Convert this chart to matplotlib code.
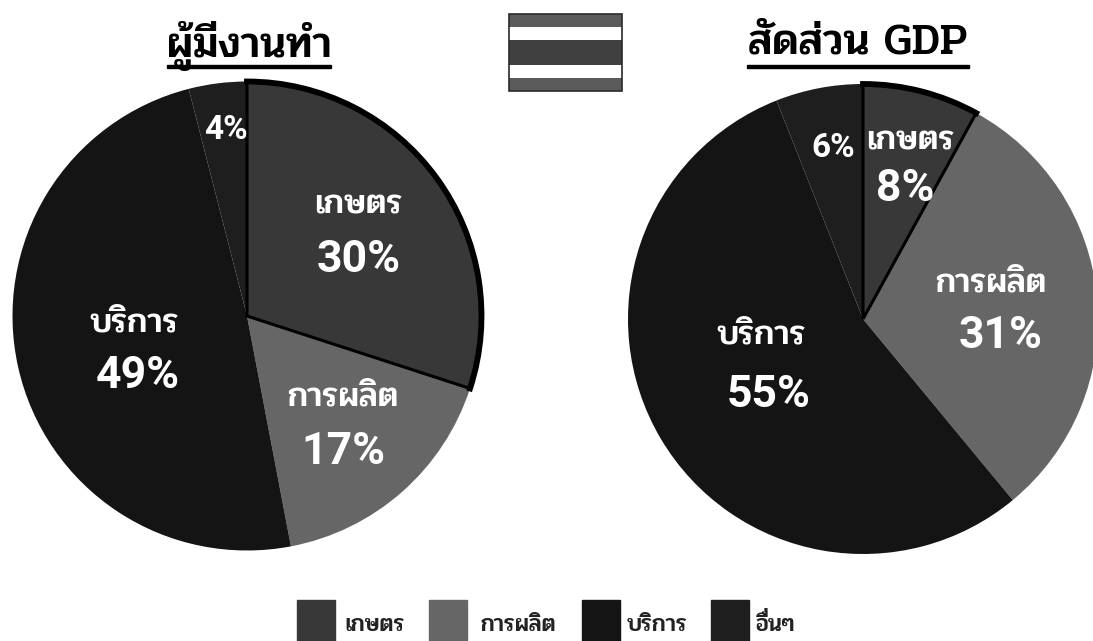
import matplotlib
matplotlib.use('Agg')
import matplotlib.pyplot as plt
from matplotlib.patches import Rectangle, Arc

W, H = 1093, 641

categories = ['เกษตร', 'การผลิต', 'บริการ', 'อื่นๆ']
colors = ['#383838', '#666666', '#141414', '#1e1e1e']
jobs = [30, 17, 49, 4]
gdp = [8, 31, 55, 6]
title_left = 'ผู้มีงานทำ'
title_right = 'สัดส่วน GDP'

THAI_FONT = ['Pridi', 'DejaVu Serif']
NUM_FONT = ['Roboto', 'DejaVu Sans']


def px_axes(x0, y0, x1, y1):
    # pixel box, y counted from the top like in the picture
    return fig.add_axes([x0 / W, 1 - y1 / H, (x1 - x0) / W, (y1 - y0) / H])


def draw_pie(cx, cy, r, values):
    ax = px_axes(cx - r, cy - r, cx + r, cy + r)
    wedges, _ = ax.pie(values, colors=colors, startangle=90, counterclock=False, radius=1)
    ax.set_xlim(-1, 1)
    ax.set_ylim(-1, 1)
    ax.patch.set_visible(False)
    # first slice gets the black outline, the round side is drawn thicker
    first = wedges[0]
    first.set_edgecolor('black')
    first.set_linewidth(2.2)
    first.set_zorder(5)
    first.set_clip_on(False)
    arc = Arc((0, 0), 2, 2, theta1=first.theta1, theta2=first.theta2, color='black', lw=4.2,
              zorder=6, capstyle='projecting', clip_on=False)
    ax.add_patch(arc)
    return ax


def name_label(x, y, text):
    fig.text(x / W, 1 - y / H, text, color='white', fontsize=25, family=THAI_FONT,
             weight=500, ha='center', va='center', zorder=10)


def pct_label(x, y, value, size=32, weight=600):
    fig.text(x / W, 1 - y / H, f'{value}%', color='white', fontsize=size, family=NUM_FONT,
             weight=weight, ha='center', va='center', zorder=10)


fig = plt.figure(figsize=(W / 100, H / 100), dpi=100)

draw_pie(247, 316, 234.5, jobs)
draw_pie(863, 319, 235, gdp)

name_label(359, 205, categories[0])
pct_label(359, 260, jobs[0])
name_label(343, 398, categories[1])
pct_label(343, 452, jobs[1])
name_label(134, 324, categories[2])
pct_label(138, 376, jobs[2])
pct_label(226, 130, jobs[3], 24, 700)

name_label(911, 142, categories[0])
pct_label(905, 189, gdp[0])
name_label(991, 283, categories[1])
pct_label(1001, 336, gdp[1])
name_label(761, 335, categories[2])
pct_label(769, 395, gdp[2])
pct_label(833, 148, gdp[3], 24, 700)

# titles, underlined by hand
fig.text(249 / W, 1 - 46 / H, title_left, fontsize=31.5, family=THAI_FONT, weight=500,
         ha='center', va='center', color='black')
fig.add_artist(Rectangle((167 / W, 1 - 68 / H), 164 / W, 3 / H, color='black', transform=fig.transFigure))
fig.text(858 / W, 1 - 44 / H, title_right, fontsize=32, family=THAI_FONT, weight=500,
         ha='center', va='center', color='black')
fig.add_artist(Rectangle((747 / W, 1 - 68 / H), 222 / W, 3 / H, color='black', transform=fig.transFigure))

# flag
flag = px_axes(509, 14, 622, 91)
flag.axis('off')
flag.set_xlim(0, 1)
flag.set_ylim(0, 1)
flag_bands = [(0, 1 / 6, '#5a5a5a'), (1 / 6, 1 / 3, '#ffffff'), (1 / 3, 2 / 3, '#404040'),
              (2 / 3, 5 / 6, '#ffffff'), (5 / 6, 1, '#5a5a5a')]
for y0, y1, c in flag_bands:
    flag.add_patch(Rectangle((0, y0), 1, y1 - y0, color=c, lw=0))
flag.add_patch(Rectangle((0, 0), 1, 1, fill=False, ec='#2a2a2a', lw=1.2, clip_on=False))

# legend
legend_x = [297, 429, 582, 711]
legend_text_x = [345, 480, 627, 756]
for i, name in enumerate(categories):
    box = Rectangle((legend_x[i] / W, 1 - 641 / H), 38 / W, 41 / H, color=colors[i], transform=fig.transFigure)
    fig.add_artist(box)
    fig.text(legend_text_x[i] / W, 1 - 631 / H, name, fontsize=17, family=THAI_FONT, weight=500,
             ha='left', va='baseline', color='#222222')

# no text shaping here, so the tone mark of the last entry sits on its vowel: lift a copy
fig.text(761 / W, 1 - 626 / H, '\u00a0\u0e48', fontsize=17, family=THAI_FONT, weight=500,
         ha='left', va='baseline', color='#222222')

fig.savefig('out.png', dpi=100)
